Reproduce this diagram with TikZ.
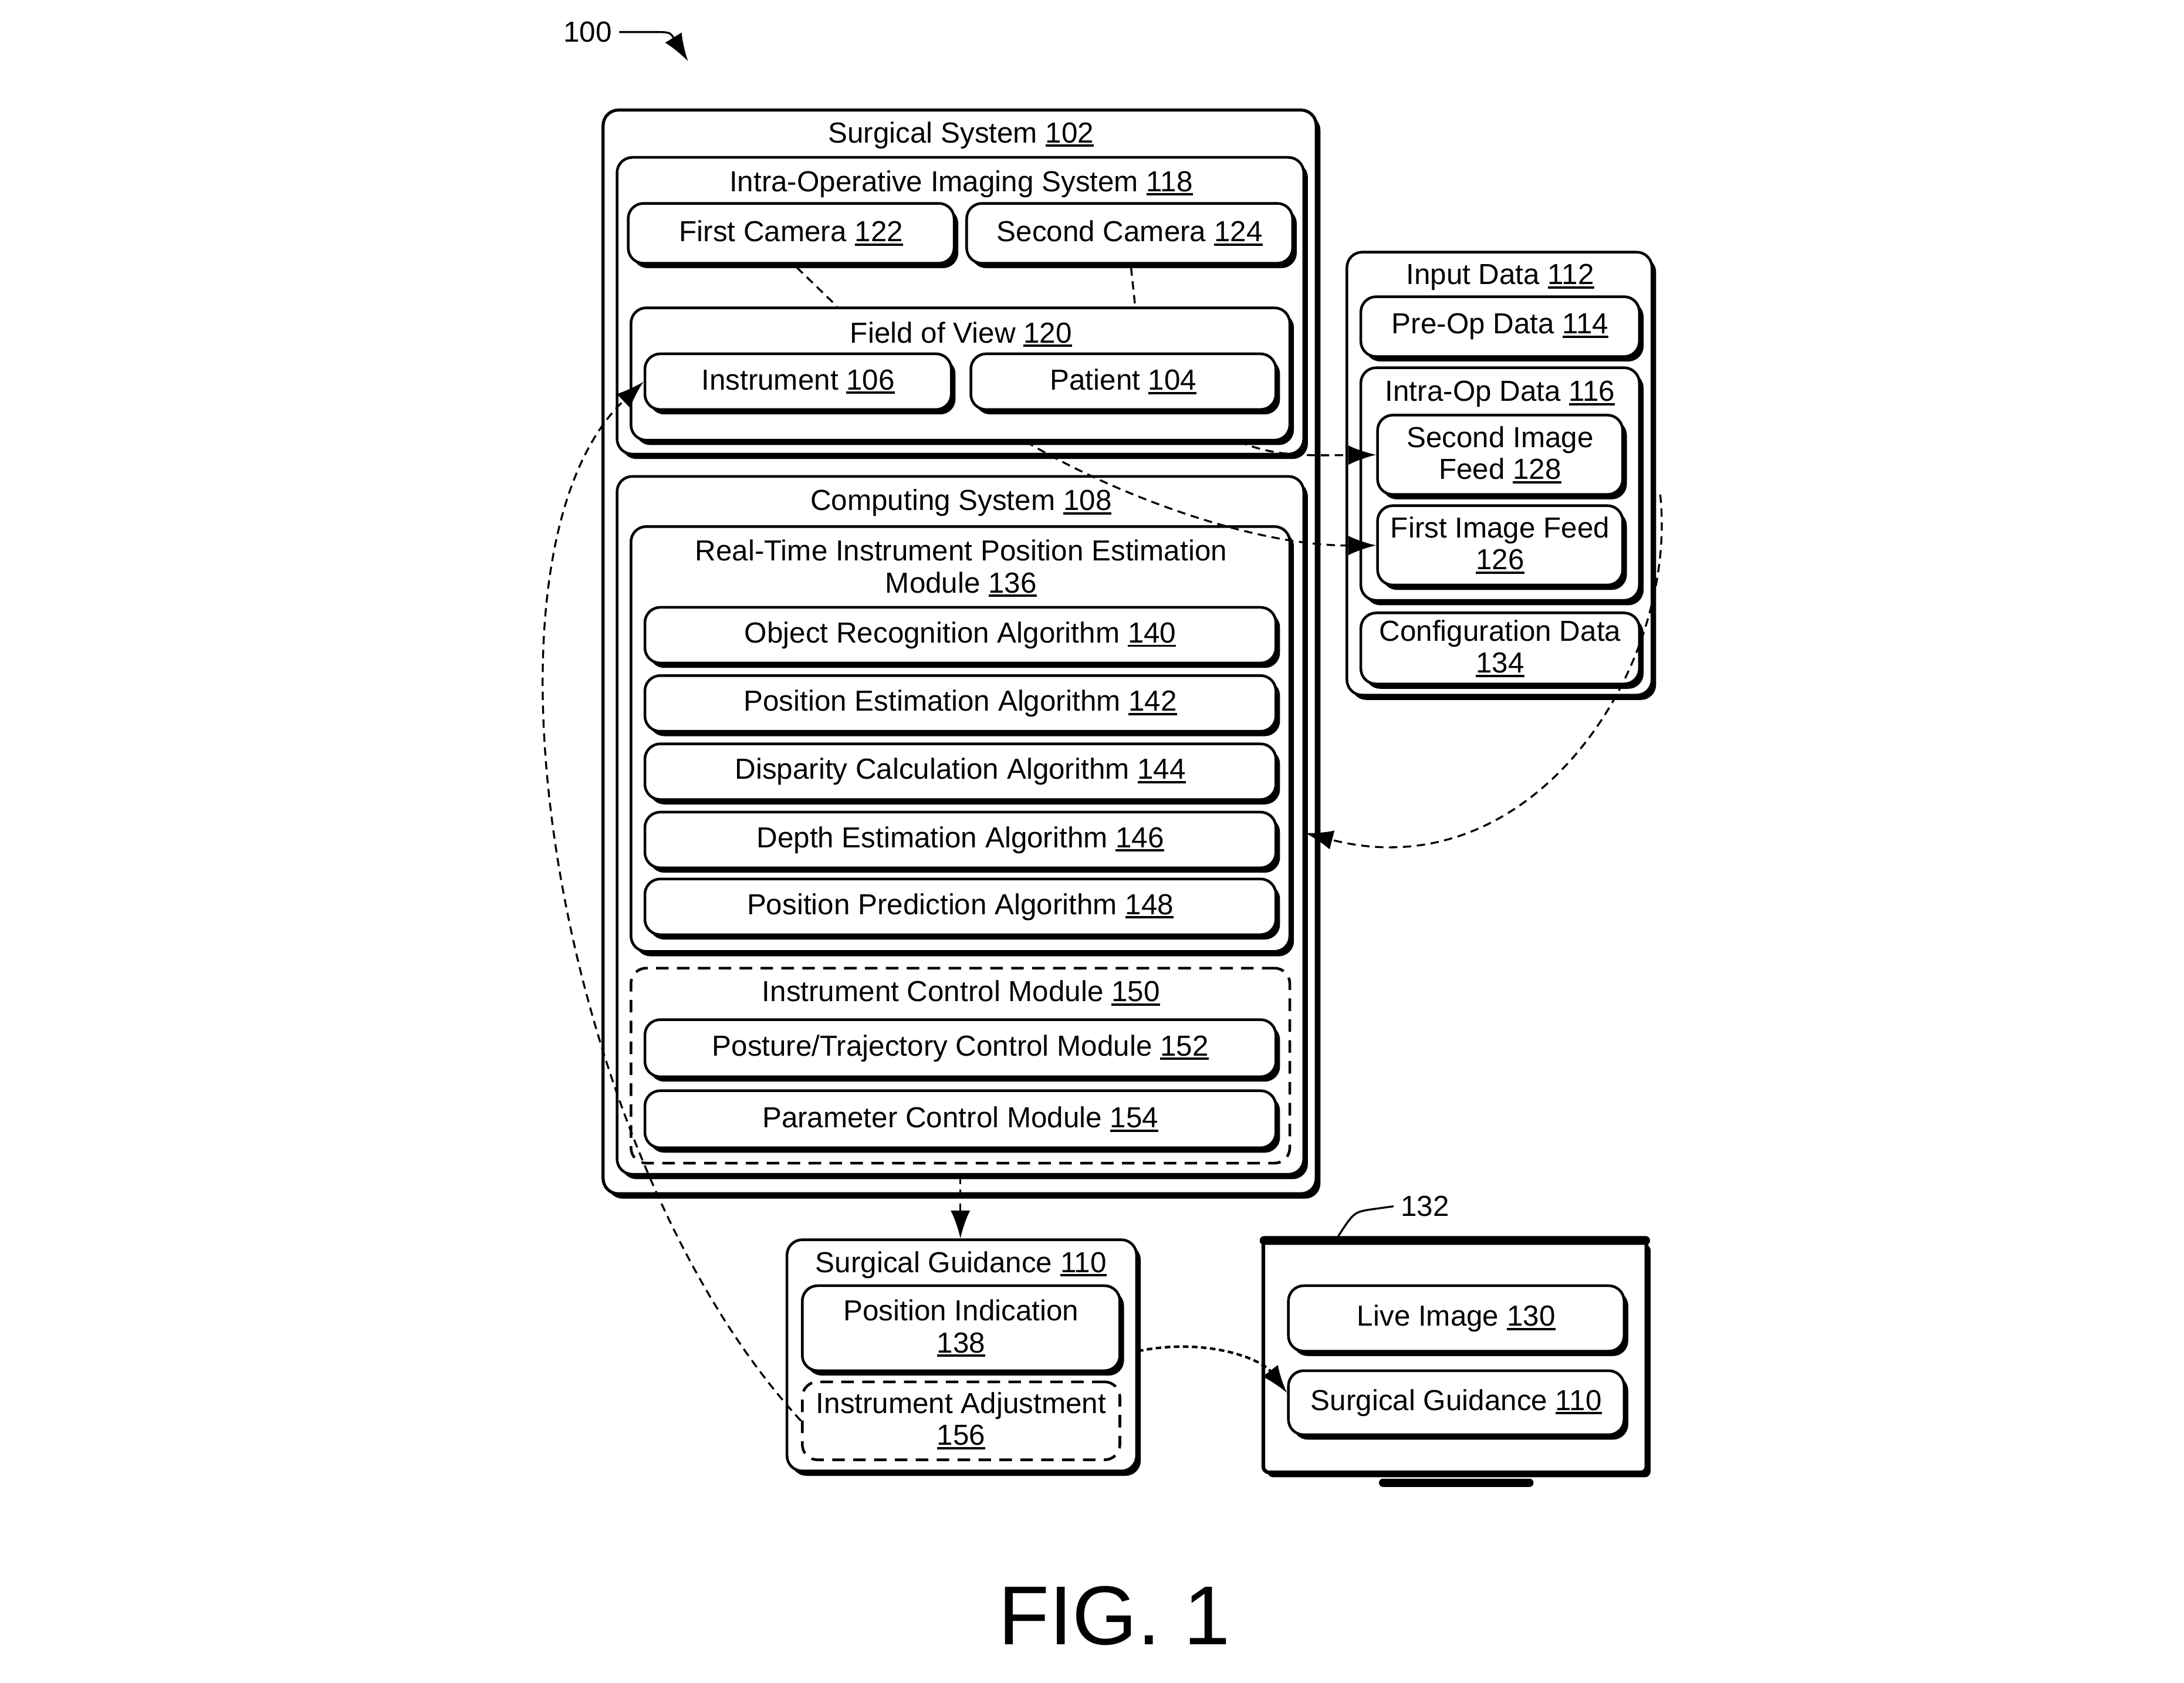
\documentclass[tikz,border=0pt]{standalone}
\usepackage{fontspec}
\setmainfont{Liberation Sans}
\usetikzlibrary{arrows.meta,shadows,calc}
\newcommand\lbfont{\fontsize{20.8}{23}\selectfont}
\newsavebox\ulbox
\newcommand\ul[1]{\sbox\ulbox{#1}\rlap{\rule[-3pt]{\wd\ulbox}{1.6pt}}\usebox\ulbox}
\begin{document}
\begin{tikzpicture}[x=1pt,y=-1pt,
  tip/.tip={Latex[length=20pt,width=14pt]},
  box/.style={draw, line width=1.9pt, rounded corners=11pt, fill=white, inner sep=0pt, align=center, font=\lbfont,
    drop shadow={shadow xshift=3pt, shadow yshift=-3.5pt, fill=black, opacity=1}},
  dbox/.style={draw, line width=1.9pt, rounded corners=11pt, dash pattern=on 9pt off 6pt, fill=white, inner sep=0pt, align=center, font=\lbfont},
  lbl/.style={inner sep=0pt, align=center, font=\lbfont},
  conn/.style={line width=1.4pt, dash pattern=on 6pt off 4pt, -tip},
  conn2/.style={line width=1.8pt, dash pattern=on 4pt off 2.5pt, -tip},
  cdash/.style={line width=1.4pt, dash pattern=on 6pt off 4pt},
]
\useasboundingbox (0,0) rectangle (1568,1208);

% reference numeral 100
\node[lbl] (l100) at (422,23) {100};
\coordinate (a100) at (494,44);
\draw[line width=1.4pt, -tip] ([xshift=5pt]l100.east) -- (468,23) .. controls (481,23) .. (a100);

% Surgical system
\node[box, line width=2.2pt, minimum width=512pt, minimum height=778pt] (ss) at (689,468) {};
\node[lbl] (ssT) at (690,97) {Surgical System \ul{102}};

\node[box, minimum width=493pt, minimum height=213pt] (iois) at (689.5,219.5) {};
\node[lbl] (ioisT) at (690,132) {Intra-Operative Imaging System \ul{118}};
\node[box, minimum width=234pt, minimum height=43pt] (cam1) at (568,167.5) {First Camera \ul{122}};
\node[box, minimum width=234pt, minimum height=43pt] (cam2) at (811,167.5) {Second Camera \ul{124}};
\node[box, minimum width=473pt, minimum height=95pt] (fov) at (689.5,268.5) {};
\node[lbl] (fovT) at (690,240) {Field of View \ul{120}};
\node[box, minimum width=220pt, minimum height=40pt] (inst) at (573,274) {Instrument \ul{106}};
\node[box, minimum width=219pt, minimum height=40pt] (pat) at (806.5,274) {Patient \ul{104}};

\draw[cdash] ([xshift=4pt,yshift=-2pt]cam1.south) -- ([xshift=-88.5pt]fov.north);
\draw[cdash] ([xshift=1pt,yshift=-2pt]cam2.south) -- ([xshift=125.5pt]fov.north);

\node[box, minimum width=493pt, minimum height=501pt] (cs) at (689.5,592.5) {};
\node[lbl] (csT) at (690,361) {Computing System \ul{108}};
\node[box, minimum width=473pt, minimum height=305pt] (rt) at (689.5,530.5) {};
\node[lbl] (rtT) at (690,408) {Real-Time Instrument Position Estimation\\Module \ul{136}};
\node[box, minimum width=453pt, minimum height=40pt] (a140) at (689.5,456) {Object Recognition Algorithm \ul{140}};
\node[box, minimum width=453pt, minimum height=40pt] (a142) at (689.5,505) {Position Estimation Algorithm \ul{142}};
\node[box, minimum width=453pt, minimum height=40pt] (a144) at (689.5,554) {Disparity Calculation Algorithm \ul{144}};
\node[box, minimum width=453pt, minimum height=40pt] (a146) at (689.5,603) {Depth Estimation Algorithm \ul{146}};
\node[box, minimum width=453pt, minimum height=40pt] (a148) at (689.5,651) {Position Prediction Algorithm \ul{148}};

\node[dbox, minimum width=473pt, minimum height=140pt] (icm) at (689.5,765) {};
\node[lbl] (icmT) at (690,713) {Instrument Control Module \ul{150}};
\node[box, minimum width=453pt, minimum height=41pt] (ptc) at (689.5,752.5) {Posture/Trajectory Control Module \ul{152}};
\node[box, minimum width=453pt, minimum height=41pt] (pcm) at (689.5,803.5) {Parameter Control Module \ul{154}};

% Input data
\node[box, minimum width=219pt, minimum height=318pt] (idata) at (1076.5,340) {};
\node[lbl] (idT) at (1077,199) {Input Data \ul{112}};
\node[box, minimum width=200pt, minimum height=43pt] (pre) at (1077,234.5) {Pre-Op Data \ul{114}};
\node[box, minimum width=200pt, minimum height=167pt] (intra) at (1077,347.5) {};
\node[lbl] (intraT) at (1077,283) {Intra-Op Data \ul{116}};
\node[box, minimum width=176pt, minimum height=57pt] (f2) at (1077,326.5) {Second Image\\Feed \ul{128}};
\node[box, minimum width=176pt, minimum height=57pt] (f1) at (1077,391.5) {First Image Feed\\\ul{126}};
\node[box, minimum width=200pt, minimum height=51pt] (conf) at (1077,465.5) {Configuration Data\\\ul{134}};

% Surgical guidance
\node[box, minimum width=251pt, minimum height=166pt] (sg) at (690.5,973) {};
\node[lbl] (sgT) at (690,908) {Surgical Guidance \ul{110}};
\node[box, minimum width=228pt, minimum height=61pt] (pind) at (690,953.5) {Position Indication\\\ul{138}};
\node[dbox, minimum width=228pt, minimum height=56pt] (ia) at (690,1020) {Instrument Adjustment\\\ul{156}};

% Display 132
\node[draw, line width=2.6pt, rounded corners=4pt, fill=white, minimum width=275pt, minimum height=167pt,
  drop shadow={shadow xshift=3pt, shadow yshift=-3.5pt, fill=black, opacity=1}] (disp) at (1044.5,973.5) {};
\fill[rounded corners=3pt] ([xshift=-1.3pt,yshift=1.3pt]disp.north west) rectangle ([xshift=1.3pt,yshift=-5pt]disp.north east);
\node[fill=black, rounded corners=3pt, minimum width=111pt, minimum height=6pt, inner sep=0pt] (stand) at (1045.5,1064.5) {};
\node[box, minimum width=241pt, minimum height=47pt] (live) at (1045.5,946.5) {Live Image \ul{130}};
\node[box, minimum width=241pt, minimum height=46pt] (sgi) at (1045.5,1007) {Surgical Guidance \ul{110}};
\node[lbl] (l132) at (1023,866) {132};
\draw[line width=1.4pt] ([xshift=-84.5pt]disp.north) .. controls (972,870) .. (986,868) -- ([xshift=-5pt]l132.west);

% connectors
\draw[conn] ([xshift=47pt]fov.south) .. controls (800,355) and (900,392) .. (f1.west);
\draw[conn] ([xshift=200pt]fov.south) .. controls (915,328) and (940,327) .. (f2.west);
\draw[conn] ([yshift=-15pt,xshift=5pt]idata.east) .. controls (1205,480) and (1100,640) .. ([yshift=-5.5pt]cs.east);
\draw[conn] (cs.south) -- (cs.south |- sg.north);
\draw[conn] (ia.west) .. controls (400,830) and (330,400) .. (inst.west);
\draw[conn2] ([yshift=3pt]sg.east) .. controls (865,960) and (905,975) .. ([yshift=7pt]sgi.west);

\node[inner sep=0pt, font=\fontsize{60}{66}\selectfont] (fig) at (800,1160) {FIG. 1};
\end{tikzpicture}
\end{document}
